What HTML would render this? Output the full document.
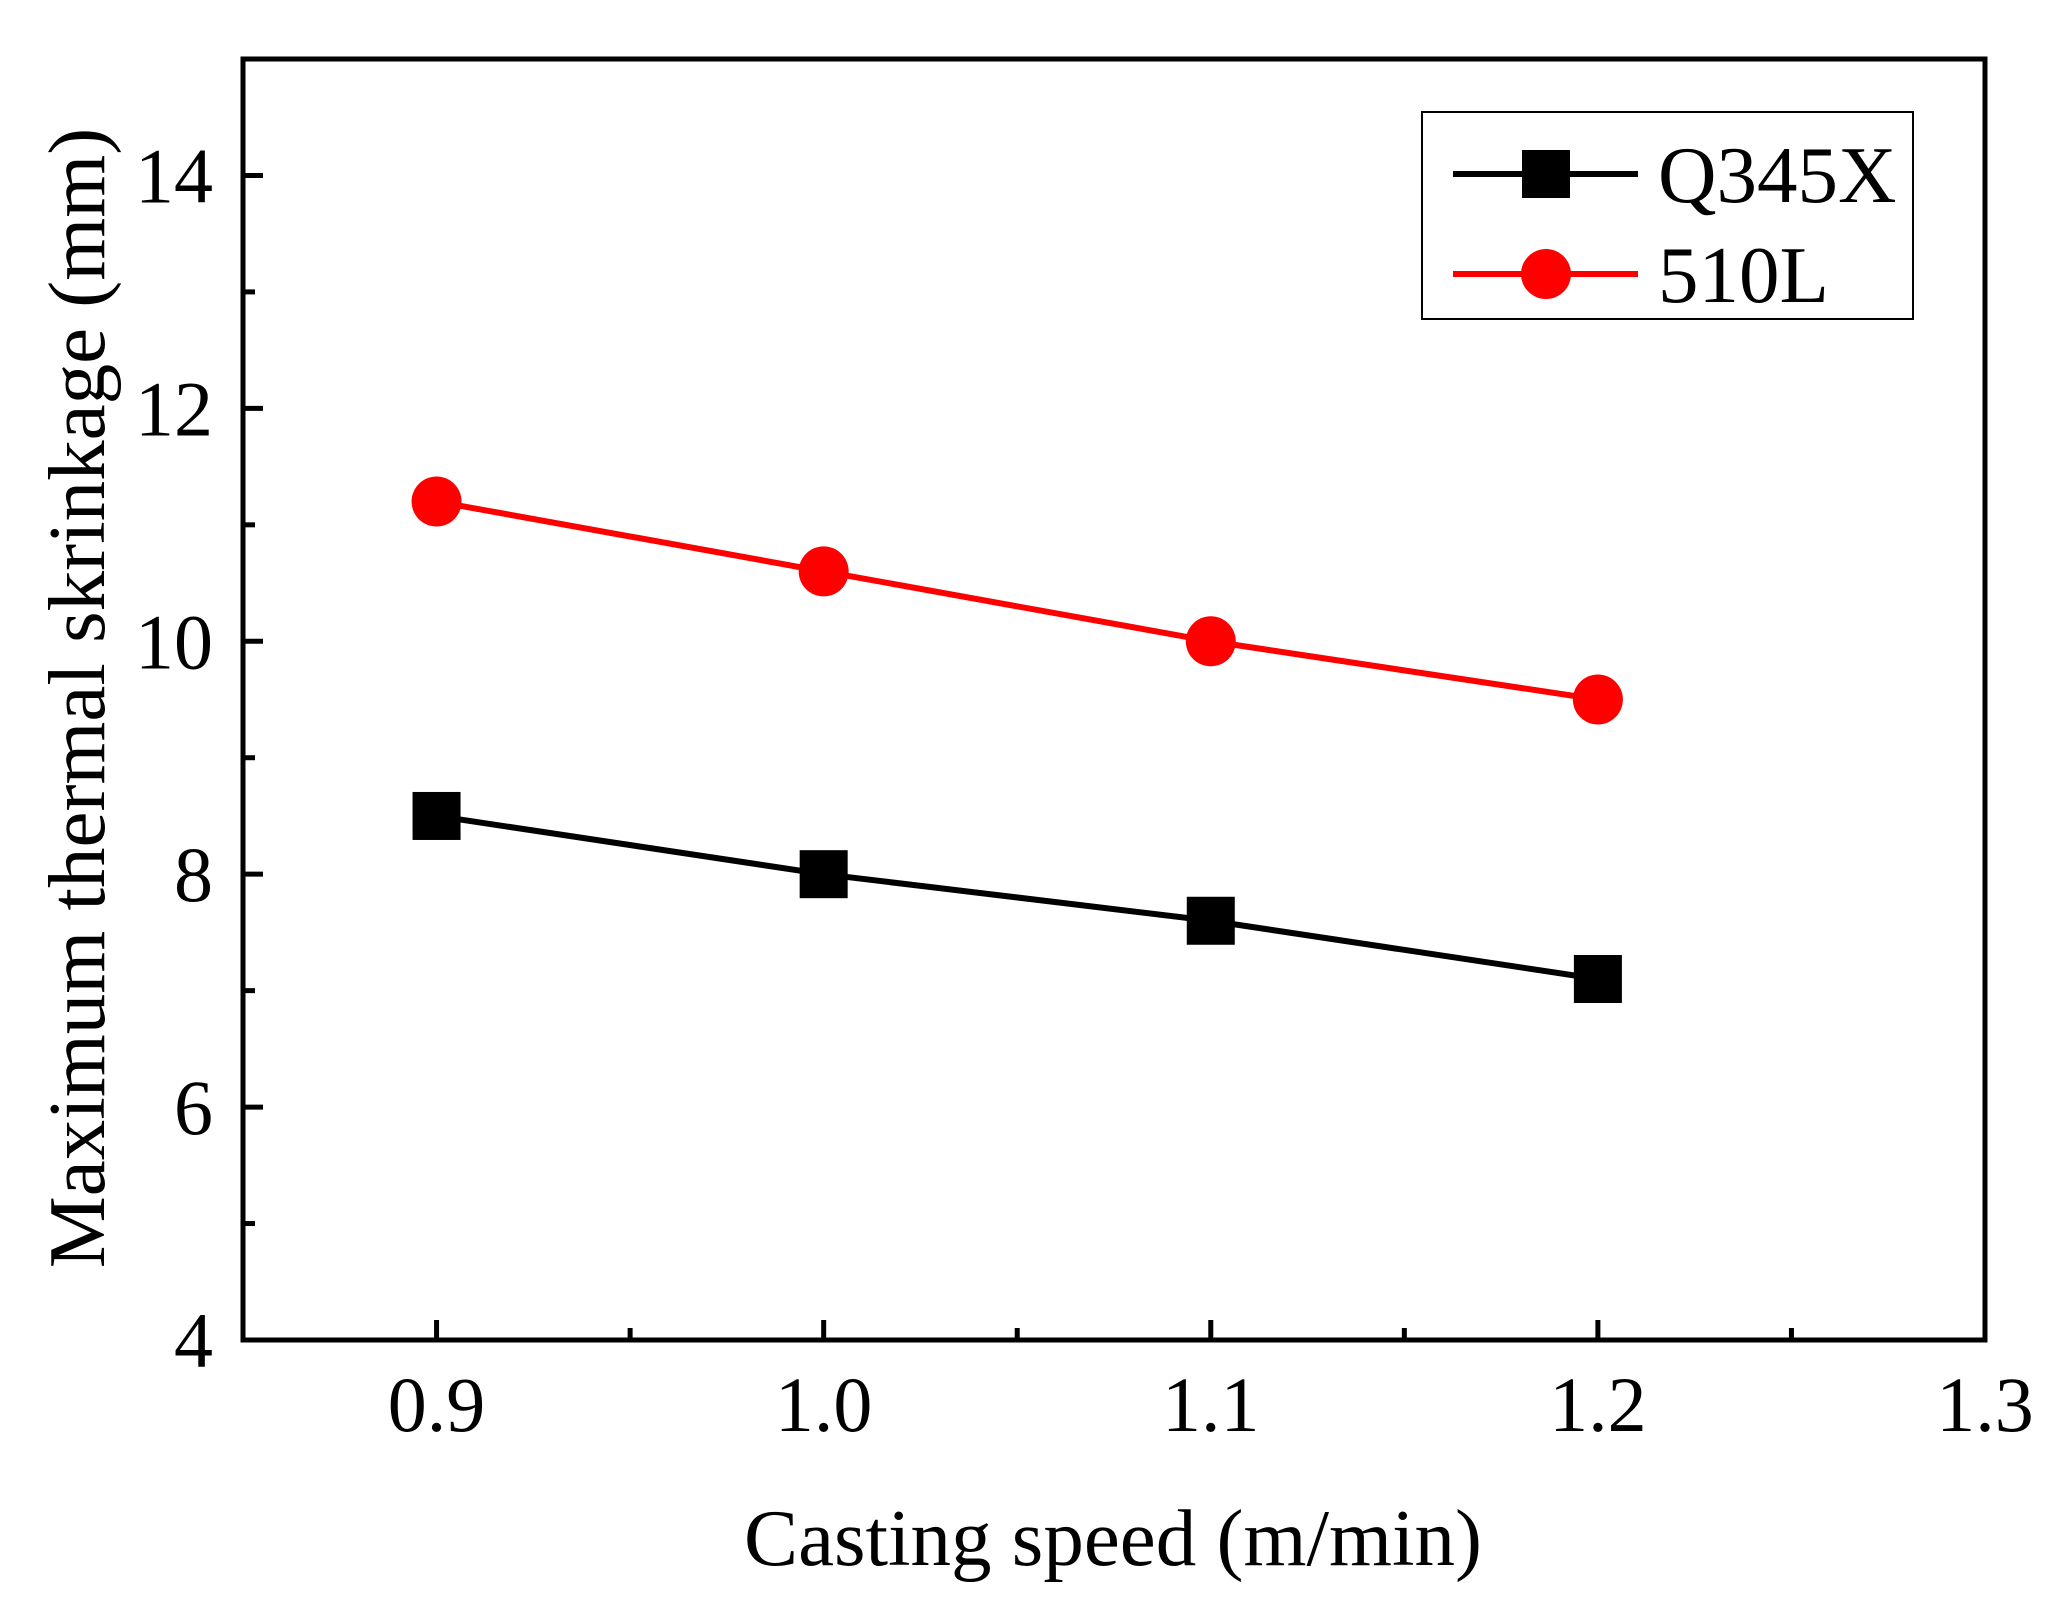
<!DOCTYPE html>
<html><head><meta charset="utf-8"><style>
html,body{margin:0;padding:0;background:#fff;}
svg{display:block;font-family:"Liberation Serif",serif;}
</style></head><body>
<svg id="chart" width="2070" height="1617" viewBox="0 0 2070 1617">
<rect x="0" y="0" width="2070" height="1617" fill="#fff"/>
<g id="marks"></g>
<g id="axes"></g>
</svg>
<script>
const categories = [0.9, 1.0, 1.1, 1.2];
const q345xValues = [8.5, 8.0, 7.6, 7.1];
const l510Values = [11.2, 10.6, 10.0, 9.5];
const xTickLabels = ["0.9", "1.0", "1.1", "1.2", "1.3"];
const xTickValues = [0.9, 1.0, 1.1, 1.2, 1.3];
const yTickLabels = ["4", "6", "8", "10", "12", "14"];
const yTickValues = [4, 6, 8, 10, 12, 14];

const L=243, R=1985, T=59, B=1340;
const xMin=0.85, xMax=1.3, yMin=4, yMax=15;
const xs = v => L + (v - xMin) / (xMax - xMin) * (R - L);
const ys = v => B - (v - yMin) / (yMax - yMin) * (B - T);
const NS = "http://www.w3.org/2000/svg";
function mk(tag, attrs, parent){const e=document.createElementNS(NS,tag);for(const k in attrs)e.setAttribute(k,attrs[k]);parent.appendChild(e);return e;}
const axes=document.getElementById('axes'), marks=document.getElementById('marks');

const frame = mk('rect',{x:L,y:T,width:R-L,height:B-T,fill:'none',stroke:'#000','stroke-width':5},axes);



xTickValues.forEach((v,i)=>{
  const x=xs(v);
  const t=mk('line',{x1:x,x2:x,y1:B,y2:B-20,stroke:'#000','stroke-width':5},axes);
  
  
  const lb=mk('text',{x:x,y:1431,'font-size':78,'text-anchor':'middle'},axes);
  lb.textContent=xTickLabels[i];
  
  
});
for(let v=0.95; v<1.3; v+=0.1){
  const x=xs(v);
  const t=mk('line',{x1:x,x2:x,y1:B,y2:B-12,stroke:'#000','stroke-width':5},axes);
  
  
}
yTickValues.forEach((v,i)=>{
  const y=ys(v);
  const t=mk('line',{x1:L,x2:L+20,y1:y,y2:y,stroke:'#000','stroke-width':5},axes);
  
  
  const lb=mk('text',{x:213,y:y+27,'font-size':78,'text-anchor':'end'},axes);
  lb.textContent=yTickLabels[i];
  
  
});
for(let v=5; v<15; v+=2){
  const y=ys(v);
  const t=mk('line',{x1:L,x2:L+12,y1:y,y2:y,stroke:'#000','stroke-width':5},axes);
  
  
}
const xt=mk('text',{x:1113,y:1565,'font-size':81,'text-anchor':'middle'},axes);
xt.textContent='Casting speed (m/min)';


const yt=mk('text',{x:0,y:0,'font-size':81,'text-anchor':'middle',transform:'translate(104,698) rotate(-90)'},axes);
yt.textContent='Maximum thermal skrinkage (mm)';



function series(vals,color,shape,name){
  const pts=categories.map((c,i)=>xs(c)+','+ys(vals[i])).join(' ');
  const pl=mk('polyline',{points:pts,fill:'none',stroke:color,'stroke-width':6},marks);
  
  
  categories.forEach((c,i)=>{
    const x=xs(c), y=ys(vals[i]);
    let m;
    if(shape==='sq') m=mk('rect',{x:x-24,y:y-24,width:48,height:48,fill:color},marks);
    else m=mk('circle',{cx:x,cy:y,r:25,fill:color},marks);
    
    
  });
}
series(q345xValues,'#000','sq','q345x');
series(l510Values,'#f00','ci','510l');

const lg=mk('g',{},axes);


const lbx=mk('rect',{x:1422,y:112,width:491,height:207,fill:'#fff',stroke:'#000','stroke-width':2},lg);


[['Q345X','#000','sq',174],['510L','#f00','ci',274]].forEach(([lab,col,sh,y])=>{
  const g=mk('g',{},lg);
  
  
  mk('line',{x1:1453,x2:1638,y1:y,y2:y,stroke:col,'stroke-width':6},g);
  if(sh==='sq') mk('rect',{x:1522,y:y-24,width:48,height:48,fill:col},g);
  else mk('circle',{cx:1546,cy:y,r:25,fill:col},g);
  const t=mk('text',{x:1658,y:y+28,'font-size':81},g);
  t.textContent=lab;
});
</script>
</body></html>
